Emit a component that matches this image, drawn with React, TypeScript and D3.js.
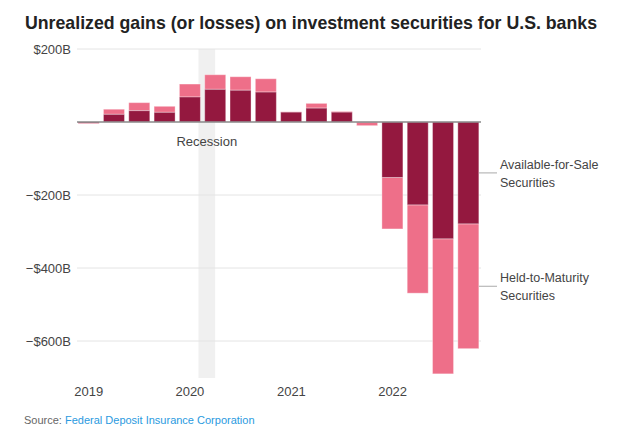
import React from 'react';
import * as d3 from 'd3';

const quarters = [
  '2019-01-01', '2019-04-01', '2019-07-01', '2019-10-01',
  '2020-01-01', '2020-04-01', '2020-07-01', '2020-10-01',
  '2021-01-01', '2021-04-01', '2021-07-01', '2021-10-01',
  '2022-01-01', '2022-04-01', '2022-07-01', '2022-10-01',
];
// $ billions
const availableForSale = [-3, 21, 31, 26.5, 68.5, 89.5, 87, 82, 27, 38, 27, -1, -152, -227, -320, -279];
const heldToMaturity = [-2, 14, 22, 16.5, 35.5, 40, 37, 36.5, 1, 13, 2, -9, -141, -242, -370, -342];
const yTicks = [200, -200, -400, -600];
const yearTicks = ['2019-01-01', '2020-01-01', '2021-01-01', '2022-01-01'];
const recession = ['2020-02-01', '2020-04-01'];

const DARK = '#94183f';
const PINK = '#ee6f89';
const FONT = "'Liberation Sans', Arial, sans-serif";

const fmt = (v: number) => (v < 0 ? '\u2212' : '') + '$' + Math.abs(v) + 'B';

export default function App() {
  const x = d3.scaleBand<string>().domain(quarters).range([76, 481]).paddingInner(0.17).paddingOuter(0.085);
  const bw = x.bandwidth();
  const y = d3.scaleLinear().domain([-600, 200]).range([341, 49]);
  const parse = d3.timeParse('%Y-%m-%d');
  const xt = d3.scaleTime()
    .domain([parse(quarters[0])!, parse(quarters[quarters.length - 1])!])
    .range([x(quarters[0])! + bw / 2, x(quarters[quarters.length - 1])! + bw / 2]);

  const gx0 = 77, gx1 = 481;
  const rx0 = xt(parse(recession[0])!), rx1 = xt(parse(recession[1])!);

  const last = quarters.length - 1;
  const lastX = x(quarters[last])! + bw;
  const afsMid = (y(0) + y(availableForSale[last])) / 2;
  const htmMid = (y(availableForSale[last]) + y(availableForSale[last] + heldToMaturity[last])) / 2;

  return (
    <svg width={640} height={438} style={{ position: 'absolute', left: 0, top: 0, background: '#fff' }}>
      <text x={25} y={29} fontFamily={FONT} fontWeight="bold" fontSize={19} fill="#222"
        textLength={572} lengthAdjust="spacingAndGlyphs">
        Unrealized gains (or losses) on investment securities for U.S. banks
      </text>

      <rect x={rx0} y={49} width={rx1 - rx0} height={378 - 49} fill="#f0f0f0" />

      {yTicks.map((t) => (
        <g key={t}>
          <line x1={gx0} x2={gx1} y1={y(t)} y2={y(t)} stroke="#e4e4e4" strokeWidth={1} />
          <text x={71} y={y(t) + 4.5} textAnchor="end" fontFamily={FONT} fontSize={13} fill="#444">{fmt(t)}</text>
        </g>
      ))}

      <text x={(rx0 + rx1) / 2} y={146} textAnchor="middle" fontFamily={FONT} fontSize={13} fill="#444">Recession</text>

      {quarters.map((q, i) => {
        const a = availableForSale[i];
        const h = heldToMaturity[i];
        const ay0 = y(Math.max(0, a)), ay1 = y(Math.min(0, a));
        const top = a + h;
        const hy0 = y(Math.max(a, top)), hy1 = y(Math.min(a, top));
        return (
          <g key={q}>
            <rect x={x(q)} y={hy0} width={bw} height={Math.max(0, hy1 - hy0)} fill={PINK} stroke="#fff" strokeOpacity={0.35} strokeWidth={1} />
            <rect x={x(q)} y={ay0} width={bw} height={Math.max(0, ay1 - ay0)} fill={DARK} stroke="#fff" strokeOpacity={0.35} strokeWidth={1} />
          </g>
        );
      })}

      <line x1={gx0} x2={gx1} y1={y(0)} y2={y(0)} stroke="#888" strokeWidth={1.5} />

      {yearTicks.map((d) => (
        <text key={d} x={xt(parse(d)!)} y={396} textAnchor="middle" fontFamily={FONT} fontSize={13} fill="#444">
          {d.slice(0, 4)}
        </text>
      ))}

      <line x1={lastX} x2={497} y1={afsMid} y2={afsMid} stroke="#aaa" strokeWidth={1} />
      <text x={500} fontFamily={FONT} fontSize={12.5} fill="#444">
        <tspan x={500} y={afsMid - 4}>Available-for-Sale</tspan>
        <tspan x={500} y={afsMid + 14}>Securities</tspan>
      </text>
      <line x1={lastX} x2={497} y1={htmMid} y2={htmMid} stroke="#aaa" strokeWidth={1} />
      <text x={500} fontFamily={FONT} fontSize={12.5} fill="#444">
        <tspan x={500} y={htmMid - 4}>Held-to-Maturity</tspan>
        <tspan x={500} y={htmMid + 14}>Securities</tspan>
      </text>

      <text x={24} y={424} fontFamily={FONT} fontSize={11} fill="#666">
        Source: <tspan fill="#2a9ae0">Federal Deposit Insurance Corporation</tspan>
      </text>
    </svg>
  );
}
